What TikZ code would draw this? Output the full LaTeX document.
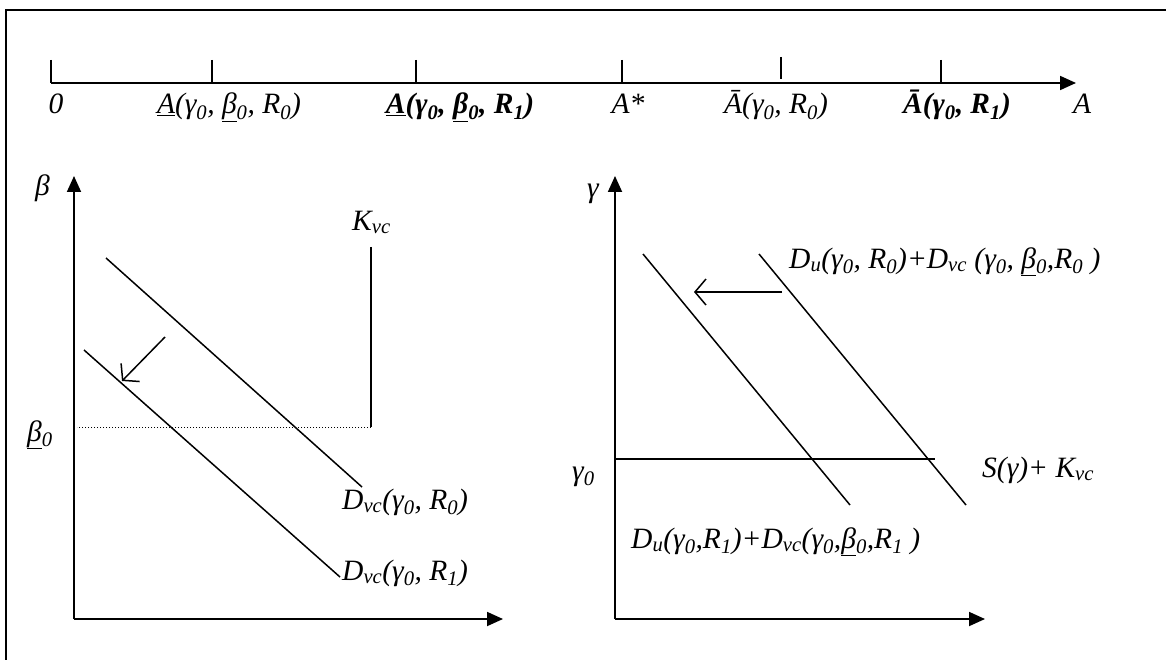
\documentclass[tikz,border=0pt]{standalone}
\usepackage{fontspec}
\setmainfont{Liberation Serif}
\usetikzlibrary{arrows.meta}
\tikzset{
  ln/.style={line width=1.5pt},
  frame/.style={line width=2pt},
  axis/.style={line width=1.8pt, -{Triangle[length=16pt,width=14pt]}},
  shiftarrow/.style={line width=1.5pt, -{Straight Barb[length=11pt,width=26pt]}},
  lbl/.style={anchor=base west, inner sep=0pt, font=\fontsize{29.5}{34}\selectfont\itshape},
  tlbl/.style={anchor=base, inner sep=0pt, font=\fontsize{29.5}{34}\selectfont\itshape},
}
\newcommand{\sbs}[1]{\textsubscript{#1}}
\begin{document}
\begin{tikzpicture}[x=1pt,y=-1pt]
\useasboundingbox (0,0) rectangle (1166,660);
% frame
\draw[frame] (6,670) -- (6,10) -- (1176,10);
% top axis
\coordinate (a0) at (51,83);
\coordinate (aend) at (1076,83);
\draw[axis] (a0) -- (aend);
\draw[ln] (51,60) -- (51,83);
\draw[ln] (212,60) -- (212,83);
\draw[ln] (416,60) -- (416,83);
\draw[ln] (622,60) -- (622,83);
\draw[ln] (781,57) -- (781,79);
\draw[ln] (941,60) -- (941,83);
\node[tlbl] (l0) at (56,114) {0};
\node[tlbl] (l1) at (229,114) {\underline{A}(γ\sbs{0}, \underline{β}\sbs{0}, R\sbs{0})};
\node[tlbl] (l2) at (460,114) {\bfseries\underline{A}(γ\sbs{0}, \underline{β}\sbs{0}, R\sbs{1})};
\node[tlbl] (l3) at (628,114) {A*};
\node[tlbl] (l4) at (776,114) {Ā(γ\sbs{0}, R\sbs{0})};
\node[tlbl] (l5) at (957,114) {\bfseries Ā(γ\sbs{0}, R\sbs{1})};
\node[tlbl] (l6) at (1082,114) {A};
% left graph
\coordinate (lo) at (74,619);
\coordinate (ly) at (74,176);
\coordinate (lx) at (503,619);
\draw[axis] (lo) -- (ly);
\draw[axis] (lo) -- (lx);
\node[lbl] (beta) at (35,196) {β};
\node[lbl] (kvc) at (352,230) {K\sbs{vc}};
\coordinate (k1) at (371,247);
\coordinate (k2) at (371,427);
\coordinate (b0) at (77,427);
\draw[ln] (k1) -- (k2);
\draw[line width=1pt, dotted] (k2) -- (b0);
\node[lbl] (beta0) at (27,441) {\underline{β}\sbs{0}};
\coordinate (d0a) at (106,258);
\coordinate (d0b) at (362,487);
\coordinate (d1a) at (84,350);
\coordinate (d1b) at (340,577);
\draw[ln] (d0a) -- (d0b);
\draw[ln] (d1a) -- (d1b);
\coordinate (sa) at (165,337);
\coordinate (sb) at (122,381);
\draw[shiftarrow] (sa) -- (sb);
\node[lbl] (dvc0) at (342,509) {D\sbs{vc}(γ\sbs{0}, R\sbs{0})};
\node[lbl] (dvc1) at (342,580) {D\sbs{vc}(γ\sbs{0}, R\sbs{1})};
% right graph
\coordinate (ro) at (615,619);
\coordinate (ry) at (615,176);
\coordinate (rx) at (985,619);
\draw[axis] (ro) -- (ry);
\draw[axis] (ro) -- (rx);
\node[lbl] (gamma) at (587,198) {γ};
\node[lbl] (gamma0) at (572,480) {γ\sbs{0}};
\coordinate (g1) at (615,459);
\coordinate (g2) at (935,459);
\draw[ln] (g1) -- (g2);
\node[lbl] (sg) at (982,477) {S(γ)+ K\sbs{vc}};
\coordinate (u1a) at (643,254);
\coordinate (u1b) at (850,505);
\coordinate (u0a) at (759,254);
\coordinate (u0b) at (966,505);
\draw[ln] (u1a) -- (u1b);
\draw[ln] (u0a) -- (u0b);
\coordinate (ha) at (782,292);
\coordinate (hb) at (694,292);
\draw[shiftarrow] (ha) -- (hb);
\node[lbl] (du0) at (789,268) {D\sbs{u}(γ\sbs{0}, R\sbs{0})+D\sbs{vc} (γ\sbs{0}, \underline{β}\sbs{0},R\sbs{0} )};
\node[lbl] (du1) at (631,548) {D\sbs{u}(γ\sbs{0},R\sbs{1})+D\sbs{vc}(γ\sbs{0},\underline{β}\sbs{0},R\sbs{1} )};
\end{tikzpicture}
\end{document}
